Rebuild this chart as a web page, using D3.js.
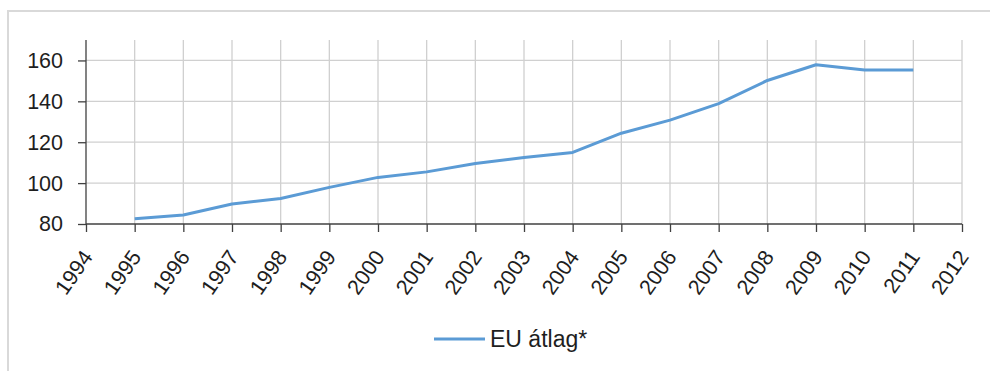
<!DOCTYPE html>
<html>
<head>
<meta charset="utf-8">
<script src="https://cdn.jsdelivr.net/npm/d3@7"></script>
<style>
  html, body { margin: 0; padding: 0; background: #fff; }
  svg { display: block; font-family: "Liberation Sans", Arial, sans-serif; }
</style>
</head>
<body>
<svg id="chart" width="990" height="371"></svg>
<script>
const years = [1995, 1996, 1997, 1998, 1999, 2000, 2001, 2002, 2003, 2004, 2005, 2006, 2007, 2008, 2009, 2010, 2011];
const euValues = [82.6, 84.4, 89.8, 92.5, 97.9, 102.8, 105.5, 109.6, 112.5, 115.0, 124.4, 130.8, 138.9, 150.2, 157.9, 155.3, 155.3];
const seriesName = "EU átlag*";
const xTicks = d3.range(1994, 2013);
const yTicks = [80, 100, 120, 140, 160];

(function () {
const svg = d3.select("#chart");

// outer frame
svg.append("path")
  .attr("d", "M8,372 L8,11 L992,11")
  .attr("fill", "none")
  .attr("stroke", "#d9d9d9")
  .attr("stroke-width", 2);

const mLeft = 86, mRight = 962, mTop = 40, mBottom = 224;
const x = d3.scaleLinear().domain([1994, 2012]).range([mLeft, mRight]);
const y = d3.scaleLinear().domain([80, 170]).range([mBottom, mTop]);

// gridlines
const grid = svg.append("g");
grid.selectAll("line.v").data(xTicks.slice(1)).enter().append("line")
  .attr("x1", d => x(d)).attr("x2", d => x(d))
  .attr("y1", y(170)).attr("y2", y(80))
  .attr("stroke", "#d0d0d0").attr("stroke-width", 1.3);
grid.selectAll("line.h").data(yTicks.slice(1)).enter().append("line")
  .attr("x1", mLeft).attr("x2", mRight)
  .attr("y1", d => y(d)).attr("y2", d => y(d))
  .attr("stroke", "#d0d0d0").attr("stroke-width", 1.3);

// y axis
const yAxis = svg.append("g")
  .attr("transform", `translate(${mLeft},0)`)
  .call(d3.axisLeft(y).tickValues(yTicks).tickSize(8).tickPadding(15).tickFormat(d3.format("d")));
yAxis.select(".domain").attr("d", `M0,${y(170)}V${y(80)}`);
yAxis.selectAll("path, line").attr("stroke", "#404040").attr("stroke-width", 1.3);
yAxis.selectAll("text").attr("font-size", 21.5).attr("fill", "#1e1e1e").attr("font-family", "Liberation Sans, Arial, sans-serif");

// x axis
const xAxis = svg.append("g")
  .attr("transform", `translate(0,${mBottom})`)
  .call(d3.axisBottom(x).tickValues(xTicks).tickSize(8).tickFormat(d3.format("d")));
xAxis.select(".domain").attr("d", `M${mLeft},0H${mRight}`);
xAxis.selectAll("path, line").attr("stroke", "#404040").attr("stroke-width", 1.3);
xAxis.selectAll("text")
  .attr("font-size", 21.5).attr("fill", "#1e1e1e")
  .attr("font-family", "Liberation Sans, Arial, sans-serif")
  .attr("text-anchor", "end")
  .attr("y", 0).attr("dy", 0)
  .attr("transform", "translate(7,33) rotate(-55)");

// line
const line = d3.line().x((d, i) => x(years[i])).y(d => y(d));
svg.append("path")
  .datum(euValues)
  .attr("d", line)
  .attr("fill", "none")
  .attr("stroke", "#5b9bd5")
  .attr("stroke-width", 3)
  .attr("stroke-linejoin", "round");

// legend
const lg = svg.append("g");
lg.append("line")
  .attr("x1", 434).attr("x2", 485).attr("y1", 339).attr("y2", 339)
  .attr("stroke", "#5b9bd5").attr("stroke-width", 3);
lg.append("text")
  .attr("x", 490).attr("y", 339).attr("dy", "0.36em")
  .attr("font-size", 23).attr("fill", "#1e1e1e")
  .text(seriesName);
})();
</script>
</body>
</html>
